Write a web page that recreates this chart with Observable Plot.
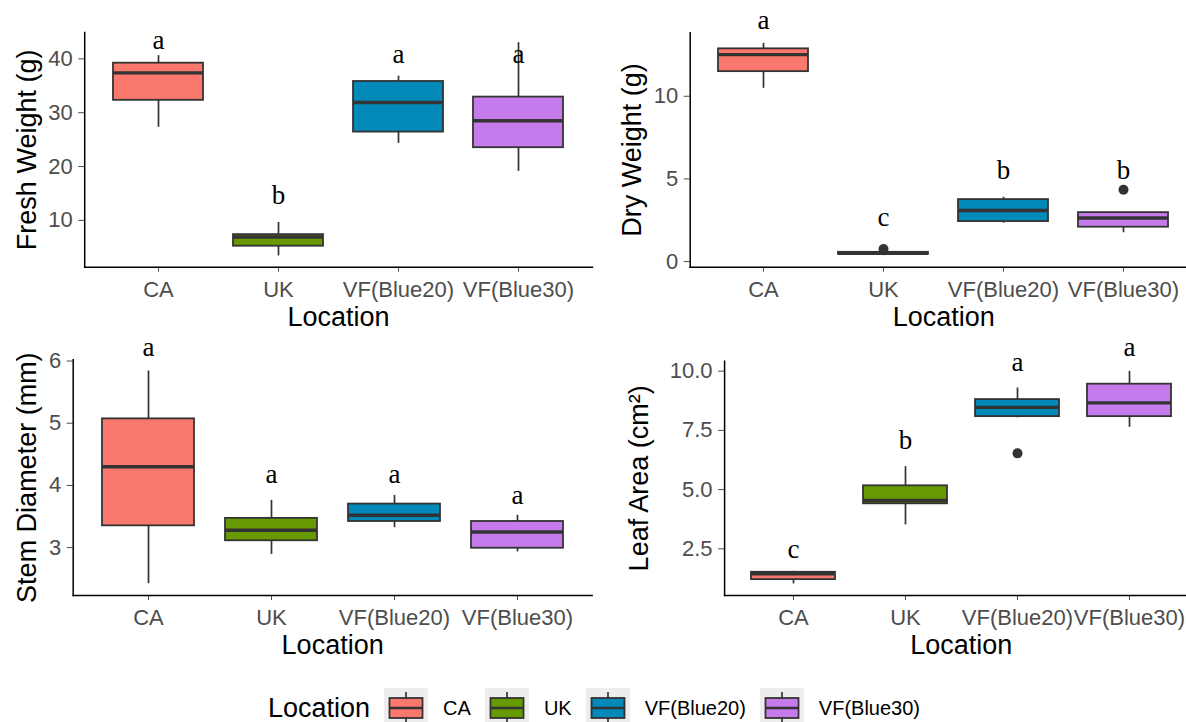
<!DOCTYPE html>
<html><head><meta charset="utf-8">
<script src="https://cdn.jsdelivr.net/npm/d3@7"></script>
<script src="https://cdn.jsdelivr.net/npm/@observablehq/plot@0.6"></script>
<style>
html,body{margin:0;padding:0;background:#fff;overflow:hidden;}
#root{position:relative;width:1186px;height:722px;overflow:hidden;background:#fff;}
.panel{position:absolute;}
.panel svg{max-width:none !important;}
#legend{position:absolute;left:268px;top:688px;display:flex;align-items:center;font-family:'Liberation Sans',Arial,sans-serif;color:#000;white-space:nowrap;}
</style></head><body><div id="root"></div>
<script>
// ---------- data ----------
const locations = ["CA", "UK", "VF(Blue20)", "VF(Blue30)"];
const palette = ["#FA786D", "#679A00", "#0089B9", "#C67BEC"];
const xTitle = "Location";
const legendTitle = "Location";

// Fresh weight (g)
const freshTitle = "Fresh Weight (g)";
const freshLow  = [27.3, 3.4, 24.3, 19.1];
const freshQ1   = [32.3, 5.2, 26.4, 23.5];
const freshMed  = [37.4, 6.9, 31.9, 28.5];
const freshQ3   = [39.2, 7.35, 35.8, 32.9];
const freshHigh = [40.6, 9.6, 36.8, 43.0];
const freshLetters = ["a", "b", "a", "a"];
const freshLetterY = [43.1, 14.3, 40.4, 40.4];
const freshOutLoc = [];
const freshOutVal = [];
const freshTicks = [10, 20, 30, 40];
const freshDomain = [1.3, 44.9];

// Dry weight (g)
const dryTitle = "Dry Weight (g)";
const dryLow  = [10.48, 0.36, 2.32, 1.74];
const dryQ1   = [11.49, 0.44, 2.42, 2.08];
const dryMed  = [12.52, 0.50, 3.09, 2.64];
const dryQ3   = [12.87, 0.56, 3.75, 2.96];
const dryHigh = [13.2, 0.62, 3.89, 2.96];
const dryLetters = ["a", "c", "b", "b"];
const dryLetterY = [14.5, 2.54, 5.37, 5.37];
const dryOutLoc = ["UK", "VF(Blue30)"];
const dryOutVal = [0.76, 4.34];
const dryTicks = [0, 5, 10];
const dryDomain = [-0.34, 13.84];

// Stem diameter (mm)
const stemTitle = "Stem Diameter (mm)";
const stemLow  = [2.42, 2.89, 3.32, 2.93];
const stemQ1   = [3.35, 3.11, 3.42, 2.99];
const stemMed  = [4.30, 3.28, 3.52, 3.25];
const stemQ3   = [5.07, 3.47, 3.70, 3.42];
const stemHigh = [5.84, 3.76, 3.84, 3.52];
const stemLetters = ["a", "a", "a", "a"];
const stemLetterY = [6.18, 4.15, 4.15, 3.81];
const stemOutLoc = [];
const stemOutVal = [];
const stemTicks = [3, 4, 5, 6];
const stemDomain = [2.23, 6.02];

// Leaf area (cm2)
const leafTitle = "Leaf Area (cm\u00B2)";
const leafLow  = [1.02, 3.51, 8.03, 7.63];
const leafQ1   = [1.20, 4.40, 8.08, 8.08];
const leafMed  = [1.45, 4.54, 8.47, 8.66];
const leafQ3   = [1.51, 5.16, 8.80, 9.45];
const leafHigh = [1.55, 5.97, 9.29, 9.99];
const leafLetters = ["c", "b", "a", "a"];
const leafLetterY = [2.40, 6.99, 10.3, 10.9];
const leafOutLoc = ["VF(Blue20)"];
const leafOutVal = [6.53];
const leafTicks = [2.5, 5.0, 7.5, 10.0];
const leafDomain = [0.53, 10.42];

// ---------- build ----------
const sans = "'Liberation Sans', Arial, Helvetica, sans-serif";
const serif = "'Liberation Serif', 'Times New Roman', Times, serif";
const root = document.getElementById("root");

function rowsOf(low, q1, med, q3, high, letters, letterY) {
  return locations.map((loc, i) => ({loc, low: low[i], q1: q1[i], med: med[i], q3: q3[i], high: high[i], letter: letters[i], letterY: letterY[i]}));
}
function outliersOf(locs, vals) {
  return locs.map((loc, i) => ({loc, value: vals[i]}));
}

function panel(p) {
  const L = p.layout;
  const chart = Plot.plot({
    width: L.width, height: L.height,
    marginTop: L.mt, marginRight: L.mr, marginBottom: L.mb, marginLeft: L.ml,
    style: {fontFamily: sans, background: "transparent", overflow: "visible", maxWidth: "none"},
    x: {domain: locations, paddingInner: 0.25, paddingOuter: 0.225},
    y: {domain: p.domain},
    color: {domain: locations, range: palette},
    marks: [
      Plot.ruleX(p.rows, {x: "loc", y1: "low", y2: "high", stroke: "#333333", strokeWidth: 1.7}),
      Plot.barY(p.rows, {x: "loc", y1: "q1", y2: "q3", fill: "loc", stroke: "#333333", strokeWidth: 1.8}),
      Plot.tickY(p.rows, {x: "loc", y: "med", stroke: "#333333", strokeWidth: 3.4}),
      Plot.dot(p.outliers, {x: "loc", y: "value", r: 5, fill: "#333333"}),
      Plot.text(p.rows, {x: "loc", y: "letterY", text: "letter", fontFamily: serif, fontSize: 27, fill: "#000", dy: -2}),
      Plot.axisY({ticks: p.ticks, tickFormat: p.tickFormat, tickSize: 6, tickPadding: 6, fontSize: 22, color: "#4d4d4d", label: null}),
      Plot.axisX({tickSize: 5, tickPadding: 9, fontSize: 22, color: "#4d4d4d", label: null}),
      Plot.frame({anchor: "left", stroke: "#000", strokeWidth: 1.5}),
      Plot.frame({anchor: "bottom", stroke: "#000", strokeWidth: 1.5}),
      Plot.text([p.title], {text: d => d, frameAnchor: "left", textAnchor: "middle", lineAnchor: "middle", dx: L.titleDx, rotate: -90, fontSize: 27, fill: "#000"}),
      Plot.text([xTitle], {text: d => d, frameAnchor: "bottom", textAnchor: "middle", lineAnchor: "middle", dy: 50, fontSize: 27, fill: "#000"})
    ]
  });
  const div = document.createElement("div");
  div.className = "panel";
  div.style.left = L.left + "px";
  div.style.top = L.top + "px";
  div.style.width = L.width + "px";
  div.style.height = L.height + "px";
  div.appendChild(chart);
  root.appendChild(div);
}

const intFmt = d3.format("d");
const oneDec = d3.format(".1f");

panel({
  rows: rowsOf(freshLow, freshQ1, freshMed, freshQ3, freshHigh, freshLetters, freshLetterY),
  outliers: outliersOf(freshOutLoc, freshOutVal),
  domain: freshDomain, ticks: freshTicks, tickFormat: intFmt, title: freshTitle,
  layout: {left: 0, top: 0, width: 600, height: 335, mt: 32, mr: 8, mb: 68.3, ml: 84.2, titleDx: -57.4}
});
panel({
  rows: rowsOf(dryLow, dryQ1, dryMed, dryQ3, dryHigh, dryLetters, dryLetterY),
  outliers: outliersOf(dryOutLoc, dryOutVal),
  domain: dryDomain, ticks: dryTicks, tickFormat: intFmt, title: dryTitle,
  layout: {left: 600, top: 0, width: 605, height: 335, mt: 32.3, mr: 8, mb: 68.3, ml: 89.7, titleDx: -57.9}
});
panel({
  rows: rowsOf(stemLow, stemQ1, stemMed, stemQ3, stemHigh, stemLetters, stemLetterY),
  outliers: outliersOf(stemOutLoc, stemOutVal),
  domain: stemDomain, ticks: stemTicks, tickFormat: intFmt, title: stemTitle,
  layout: {left: 0, top: 335, width: 600, height: 335, mt: 24.3, mr: 8.4, mb: 75, ml: 72.7, titleDx: -45.9}
});
panel({
  rows: rowsOf(leafLow, leafQ1, leafMed, leafQ3, leafHigh, leafLetters, leafLetterY),
  outliers: outliersOf(leafOutLoc, leafOutVal),
  domain: leafDomain, ticks: leafTicks, tickFormat: oneDec, title: leafTitle,
  layout: {left: 600, top: 335, width: 605, height: 335, mt: 25.7, mr: 7.4, mb: 75, ml: 124.1, titleDx: -84.9}
});

// ---------- legend ----------
const leg = d3.select(root).append("div").attr("id", "legend");
leg.append("span").style("font-size", "27px").style("margin-right", "14px").text(legendTitle);
locations.forEach((loc, i) => {
  const s = leg.append("svg").attr("width", 44).attr("height", 40).style("margin-right", "15px").style("display", "block");
  s.append("rect").attr("width", 44).attr("height", 40).attr("fill", "#EDEDED");
  s.append("line").attr("x1", 22).attr("x2", 22).attr("y1", 4).attr("y2", 36).attr("stroke", "#333").attr("stroke-width", 1.7);
  s.append("rect").attr("x", 5.5).attr("y", 10).attr("width", 33).attr("height", 20).attr("fill", palette[i]).attr("stroke", "#333").attr("stroke-width", 1.8);
  s.append("line").attr("x1", 5.5).attr("x2", 38.5).attr("y1", 20).attr("y2", 20).attr("stroke", "#333").attr("stroke-width", 2.6);
  leg.append("span").style("font-size", "20px").style("margin-right", "14px").text(loc);
});
</script>
</body></html>
